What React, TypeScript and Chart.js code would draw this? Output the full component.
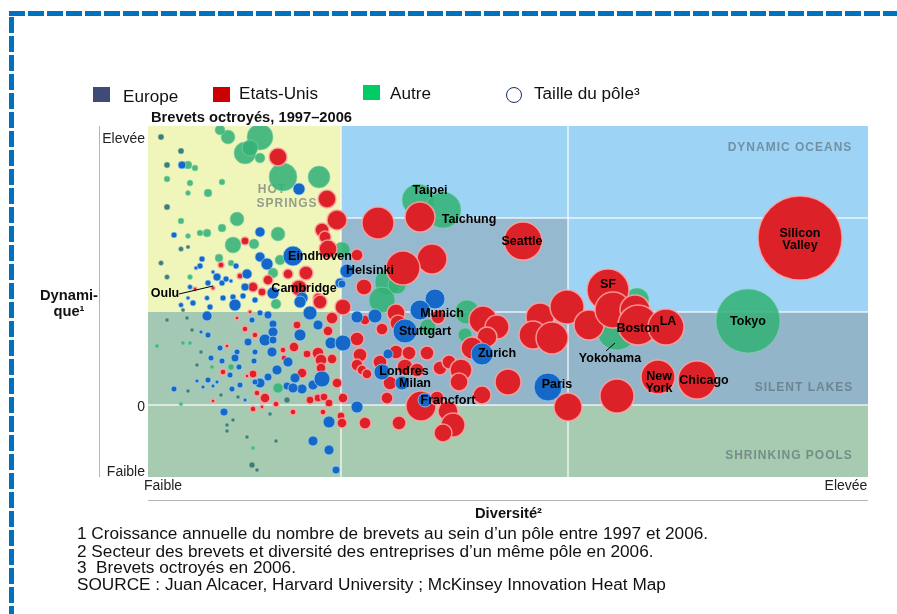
import React, { useEffect, useRef } from "react";
import { Chart, registerables } from "chart.js";

Chart.register(...registerables);

const FONT = '"Liberation Sans", Arial, sans-serif';

// Bubble values: [diversity, dynamism, size]
const autre: number[][] = [
  [112,268,13],[80,268,7],[72,275,5],[97,252,11],[102,257,8],[112,247,5],[135,228,14],[171,228,11],[60,212,4],[42,222,3],[40,212,2.5],[74,223,3],
  [89,186,7],[74,177,4],[59,172,4],[52,172,3],[33,184,3],[40,169,2.5],[19,226,3],[130,171,7],[85,160,8],[106,161,5],[71,147,4],[125,132,5],[83,142,3],
  [42,128,2.5],[47,237,3],[40,240,4],[128,101,5],[130,17,5],[83,38,3],[64,38,2],[35,62,2],[42,62,2],[9,59,2],[33,1,2],[105,-43,2],[132,145,5],
  [270,205,16],[295,195,18],[240,123,13],[234,105,13],[249,120,9],[319,93,12],[317,70,7],[280,78,8],[194,155,8],[469,75,20],[489,105,12],[600,84,32],
];
const petits: number[][] = [
  [13,268,3],[33,254,3],[19,240,3],[19,198,3],[33,156,2.5],[40,158,2],[13,142,2.5],[19,128,2.5],[19,85,2],[49,40,2],[53,53,2],[90,8,2],[73,10,2],
  [85,-15,2],[79,-20,2],[79,-26,2],[99,-32,2],[128,-36,2],[104,-60,3],[109,-65,2],[40,14,2],[122,-9,2],[139,5,3],[39,87,2],[44,75,2],[35,95,2],
];
const etatsUnis: number[][] = [
  [130,248,9],[179,206,9],[189,185,10],[174,175,7],[177,168,6],[180,156,9],[97,164,4],[73,140,3],[140,131,5],[158,132,7],[120,125,5],[209,150,6],
  [92,129,3],[105,118,5],[114,113,4],[151,117,8],[170,107,5],[65,117,2],[47,116,2],[195,98,8],[184,87,6],[172,103,7],[149,80,4],[180,74,5],[209,66,7],
  [212,50,7],[209,40,6],[170,52,6],[159,51,4],[184,46,5],[173,45,6],[173,37,5],[146,58,5],[135,55,3],[136,47,3],[97,76,3],[107,70,3],[79,59,2],[75,33,3],
  [105,31,4],[99,29,2],[154,32,5],[189,22,5],[109,12,3],[117,7,5],[162,5,4],[170,7,4],[176,8,4],[181,2,4],[195,7,5],[128,1,3],[105,-4,3],[114,-2,2],
  [145,-7,3],[175,-7,3],[193,-11,4],[194,-18,5],[65,4,2],[89,87,2],[102,93,2],[230,182,16],[272,188,15],[375,164,19],[284,146,15],[255,137,17],
  [216,118,8],[217,85,5],[234,76,6],[248,92,9],[250,82,8],[290,88,7],[335,85,14],[349,78,12],[339,68,10],[324,57,11],[214,35,5],[219,31,5],[232,43,7],
  [248,53,7],[261,52,7],[279,52,7],[257,38,8],[269,35,7],[242,22,7],[292,37,7],[301,43,7],[313,35,11],[311,23,9],[360,23,13],[334,10,9],[420,-2,14],
  [273,-1,15],[289,7,7],[300,-6,10],[305,-20,12],[295,-28,9],[251,-18,7],[217,-18,6],[239,7,6],[392,88,14],[419,98,17],[385,70,14],[404,67,16],[441,80,15],
  [460,115,21],[465,95,18],[487,95,15],[490,80,20],[518,78,18],[510,28,17],[549,25,19],[469,9,17],[652,167,42],
];
const europe: number[][] = [
  [151,216,6],[34,240,4],[112,173,5],[145,149,10],[112,148,5],[119,141,6],[99,131,5],[69,128,4],[60,122,3],[74,122,3],[54,146,3],[52,139,3],[88,139,3],
  [78,126,3],[97,118,4],[125,112,6],[192,122,5],[199,134,7],[75,107,3],[85,108,3],[154,107,6],[42,118,2.5],[59,107,2.5],[33,100,2.5],[45,102,3],[62,98,3],
  [87,100,6],[152,103,6],[125,81,4],[59,89,5],[112,92,3],[120,90,4],[104,85,3],[162,92,7],[170,80,5],[125,73,5],[100,63,4],[117,65,6],[125,65,4],[124,53,5],
  [107,53,3],[152,70,6],[183,62,6],[195,62,8],[53,73,2],[60,70,3],[72,57,3],[89,53,3],[87,47,4],[63,47,3],[74,44,3],[91,38,3],[106,44,3],[82,30,3],
  [129,35,5],[120,28,4],[112,22,5],[140,43,5],[147,27,5],[139,19,4],[154,16,5],[145,17,5],[165,20,5],[174,26,8],[60,25,3],[69,23,2],[65,19,2],[49,24,2],
  [55,18,2],[84,16,3],[92,20,3],[26,170,3],[26,16,3],[76,-7,4],[181,-17,6],[165,-36,5],[181,-45,5],[188,-65,4],[209,-2,6],[97,5,2],[107,23,3],[287,106,10],
  [272,95,10],[257,74,12],[334,51,11],[400,18,14],[277,5,7],[254,22,7],[234,33,8],[240,51,5],[227,89,7],[209,88,6],[194,121,4],[48,137,2],[65,133,2],
  [40,107,2],[83,124,2],[95,109,3],[107,105,3],
];

const regions: [number, number, number, number, string][] = [
  [0, 193, 93, 279, "#f0f5b9"],
  [193, 720, 93, 279, "#9dd3f5"],
  [193, 420, 93, 187, "#95b9ce"],
  [193, 720, 0, 93, "#93b5ca"],
  [0, 193, 0, 93, "#a3c8b4"],
  [0, 720, -72, 0, "#a6cbb0"],
];
const regionLines: number[][] = [
  [193, -72, 193, 279], [420, -72, 420, 279], [193, 187, 720, 187], [193, 93, 720, 93], [0, 0, 720, 0],
];
const regionNames: [string, number, number][] = [
  ["DYNAMIC OCEANS", 642, 257], ["SILENT LAKES", 656, 17], ["SHRINKING POOLS", 641, -51], ["HOT", 124, 215], ["SPRINGS", 139, 201],
];
const cityNames: [string, number, number][] = [
  ["Taipei", 282, 214], ["Taichung", 321, 185], ["Seattle", 374, 163], ["Silicon", 652, 171], ["Valley", 652, 159], ["Tokyo", 600, 83],
  ["SF", 460, 120], ["LA", 520, 83], ["Boston", 490, 76], ["Yokohama", 462, 46], ["New", 511, 28], ["York", 511, 16], ["Chicago", 556, 24],
  ["Paris", 409, 20], ["Francfort", 300, 4], ["Milan", 267, 21], ["Londres", 256, 33], ["Stuttgart", 277, 73], ["Munich", 294, 91], ["Zurich", 349, 51],
  ["Helsinki", 222, 134], ["Eindhoven", 172, 148], ["Cambridge", 156, 116], ["Oulu", 17, 111],
];
const leaders: number[][] = [[31, 111, 65, 119], [458, 54, 467, 62]];
const xTicks = [15, 698];
const xTickLabels = ["Faible", "Elevée"];
const yTicks = [268, 0, -65];
const yTickLabels = ["Elevée", "0", "Faible"];

const legendItems = [
  { label: "Europe", color: "#3f4a78", sx: 93, sy: 87, tx: 123, ty: 88 },
  { label: "Etats-Unis", color: "#cc0000", sx: 213, sy: 87, tx: 239, ty: 85 },
  { label: "Autre", color: "#00cc66", sx: 363, sy: 85, tx: 390, ty: 85 },
];
const footnotes = [
  "1 Croissance annuelle du nombre de brevets au sein d’un pôle entre 1997 et 2006.",
  "2 Secteur des brevets et diversité des entreprises d’un même pôle en 2006.",
  "3  Brevets octroyés en 2006.",
  "SOURCE : Juan Alcacer, Harvard University ; McKinsey Innovation Heat Map",
];

const toPoints = (rows: number[][]) => rows.map(([x, y, r]) => ({ x, y, r }));

const backdrop = {
  id: "backdrop",
  beforeDatasetsDraw(chart: any) {
    const { ctx, scales: { x, y } } = chart;
    ctx.save();
    regions.forEach(([x0, x1, y0, y1, c]) => {
      ctx.fillStyle = c;
      ctx.fillRect(x.getPixelForValue(x0), y.getPixelForValue(y1), x.getPixelForValue(x1) - x.getPixelForValue(x0), y.getPixelForValue(y0) - y.getPixelForValue(y1));
    });
    ctx.strokeStyle = "rgba(255,255,255,0.6)";
    ctx.lineWidth = 2;
    regionLines.forEach(([a, b, c, d]) => {
      ctx.beginPath();
      ctx.moveTo(x.getPixelForValue(a), y.getPixelForValue(b));
      ctx.lineTo(x.getPixelForValue(c), y.getPixelForValue(d));
      ctx.stroke();
    });
    ctx.font = `bold 12px ${FONT}`;
    ctx.textAlign = "center";
    ctx.textBaseline = "middle";
    ctx.letterSpacing = "1px";
    ctx.fillStyle = "rgba(85,100,110,0.6)";
    regionNames.forEach(([t, a, b]) => ctx.fillText(t, x.getPixelForValue(a), y.getPixelForValue(b)));
    ctx.restore();
  },
  afterDatasetsDraw(chart: any) {
    const { ctx, scales: { x, y }, chartArea } = chart;
    ctx.save();
    ctx.strokeStyle = "#000";
    ctx.lineWidth = 1;
    leaders.forEach(([a, b, c, d]) => {
      ctx.beginPath();
      ctx.moveTo(x.getPixelForValue(a), y.getPixelForValue(b));
      ctx.lineTo(x.getPixelForValue(c), y.getPixelForValue(d));
      ctx.stroke();
    });
    ctx.font = `bold 12.5px ${FONT}`;
    ctx.fillStyle = "#000";
    ctx.textAlign = "center";
    ctx.textBaseline = "middle";
    cityNames.forEach(([t, a, b]) => ctx.fillText(t, x.getPixelForValue(a), y.getPixelForValue(b)));
    ctx.strokeStyle = "#b5b5b5";
    ctx.beginPath();
    ctx.moveTo(chartArea.left - 48.5, chartArea.top);
    ctx.lineTo(chartArea.left - 48.5, chartArea.bottom);
    ctx.moveTo(chartArea.left, chartArea.bottom + 23.5);
    ctx.lineTo(chartArea.right, chartArea.bottom + 23.5);
    ctx.stroke();
    ctx.restore();
  },
};

const text = (left: number, top: number, size: number, bold = false, sx = 1.07): React.CSSProperties => ({
  position: "absolute", left, top, fontFamily: FONT, fontSize: size, fontWeight: bold ? 700 : 400, lineHeight: 1.15, color: "#111", whiteSpace: "pre",
  transform: `scaleX(${sx})`, transformOrigin: "left center",
});
const dashH = "repeating-linear-gradient(to right,#0070c0 0 16px,transparent 16px 19px)";
const dashV = "repeating-linear-gradient(to bottom,#0070c0 0 16px,transparent 16px 19px)";

export default function App() {
  const ref = useRef<HTMLCanvasElement>(null);
  useEffect(() => {
    const chart = new Chart(ref.current!, {
      type: "bubble",
      data: {
        datasets: [
          { label: "Autre", data: toPoints(autre), order: 4, backgroundColor: "rgba(52,178,120,0.88)", borderColor: "rgba(130,215,170,0.6)", borderWidth: 1 },
          { label: "Petits pôles", data: toPoints(petits), order: 3, backgroundColor: "#3f7d78", borderColor: "rgba(170,210,200,0.5)", borderWidth: 1 },
          { label: "Etats-Unis", data: toPoints(etatsUnis), order: 2, backgroundColor: "#dc2228", borderColor: "rgba(255,165,165,0.85)", borderWidth: 1.5 },
          { label: "Europe", data: toPoints(europe), order: 1, backgroundColor: "#1668c8", borderColor: "rgba(165,215,245,0.7)", borderWidth: 1 },
        ],
      },
      options: {
        animation: false,
        responsive: false,
        layout: { autoPadding: false, padding: { left: 0, top: 126, right: 29, bottom: 0 } },
        plugins: { legend: { display: false }, tooltip: { enabled: false } },
        scales: {
          x: {
            type: "linear", min: 0, max: 720,
            grid: { display: false, drawTicks: false }, border: { display: false },
            afterFit: (s: any) => { s.height = 137; s.paddingLeft = 0; s.paddingRight = 0; },
            afterBuildTicks: (s: any) => { s.ticks = xTicks.map((value) => ({ value })); },
            ticks: {
              autoSkip: false, maxRotation: 0, padding: 1, color: "#222", font: { family: FONT, size: 14 },
              callback: (v: any) => xTickLabels[xTicks.indexOf(v)],
            },
          },
          y: {
            type: "linear", min: -72, max: 279,
            grid: { display: false, drawTicks: false }, border: { display: false },
            afterFit: (s: any) => { s.width = 148; s.paddingTop = 0; s.paddingBottom = 0; },
            afterBuildTicks: (s: any) => { s.ticks = yTicks.map((value) => ({ value })); },
            ticks: {
              autoSkip: false, padding: 3, labelOffset: 2, color: "#222", font: { family: FONT, size: 14 },
              callback: (v: any) => yTickLabels[yTicks.indexOf(v)],
            },
          },
        },
      },
      plugins: [backdrop],
    } as any);
    return () => chart.destroy();
  }, []);

  return (
    <div style={{ position: "absolute", left: 0, top: 0, width: 897, height: 614, overflow: "hidden", background: "#fff" }}>
      <canvas ref={ref} width={897} height={614} style={{ position: "absolute", left: 0, top: 0, display: "block" }} />
      <div style={{ position: "absolute", left: 9, top: 11, width: 888, height: 5, backgroundImage: dashH }} />
      <div style={{ position: "absolute", left: 9, top: 17, width: 5, height: 597, backgroundImage: dashV }} />
      {legendItems.map((l) => (
        <React.Fragment key={l.label}>
          <div style={{ position: "absolute", left: l.sx, top: l.sy, width: 17, height: 15, background: l.color }} />
          <div style={text(l.tx, l.ty, 16)}>{l.label}</div>
        </React.Fragment>
      ))}
      <div style={{ position: "absolute", left: 506, top: 87, width: 14, height: 14, border: "1.5px solid #1a2a6c", borderRadius: "50%" }} />
      <div style={text(534, 85, 16)}>Taille du pôle³</div>
      <div style={text(151, 109, 14, true, 1.05)}>Brevets octroyés, 1997–2006</div>
      <div style={{ ...text(40, 287, 14, true, 1.05), textAlign: "center", lineHeight: "16px" }}>{"Dynami-\nque¹"}</div>
      <div style={text(475, 505, 14, true, 1.05)}>Diversité²</div>
      {footnotes.map((f, i) => (
        <div key={i} style={text(77, [525, 543, 559, 576][i], 16, false, 1.075)}>{f}</div>
      ))}
    </div>
  );
}
